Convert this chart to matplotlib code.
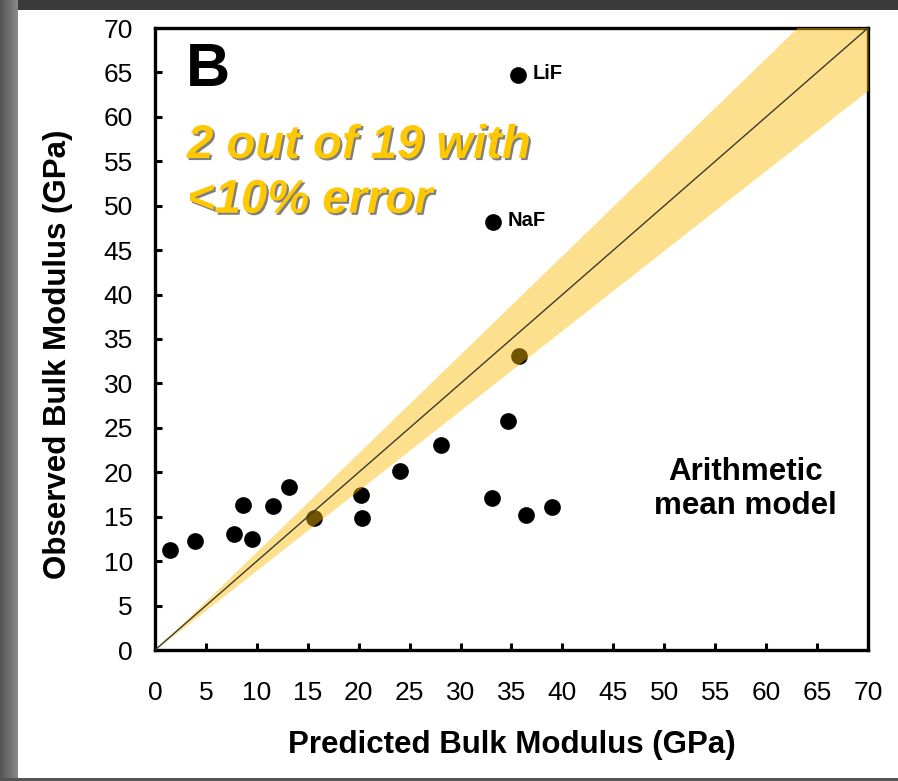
import matplotlib
matplotlib.use("Agg")
import matplotlib.pyplot as plt
import matplotlib.patheffects as pe
from matplotlib.patches import Rectangle
import numpy as np

plt.rcParams['font.family'] = ['Liberation Sans', 'DejaVu Sans']

# Data (predicted, observed) in GPa
predicted = [1.5, 3.9, 7.8, 9.5, 8.6, 11.6, 13.2, 15.6, 20.2, 20.3,
             24.1, 28.1, 34.7, 33.1, 36.4, 39.0, 35.7, 33.2, 35.6]
observed = [11.3, 12.3, 13.0, 12.5, 16.3, 16.2, 18.4, 14.9, 17.5, 14.8,
            20.2, 23.1, 25.8, 17.1, 15.2, 16.1, 33.1, 48.2, 64.7]
labels = {17: "NaF", 18: "LiF"}
tick_vals = list(range(0, 71, 5))
band_frac = 0.10
note_lines = ['2 out of 19 with', '<10% error']

fig = plt.figure(figsize=(8.98, 7.81), dpi=100)
fig.patch.set_facecolor('white')

# outer frame (presentation background)
W, H = 898, 781
fig.patches.append(Rectangle((0, 1 - 10 / H), 1, 10 / H, transform=fig.transFigure,
                             facecolor='#3a3a3a', edgecolor='none', zorder=-5))
n = 18
for i in range(n):
    g = 0.33 + 0.22 * i / n
    fig.patches.append(Rectangle((i / W, 0), 1 / W + 0.0005, 1, transform=fig.transFigure,
                                 facecolor=(g, g, g), edgecolor='none', zorder=-5))
fig.patches.append(Rectangle((0, 0), 1, 3 / H, transform=fig.transFigure,
                             facecolor='#555555', edgecolor='none', zorder=-5))

ax = fig.add_axes([155 / W, 1 - 650 / H, (868 - 155) / W, (650 - 28) / H])
ax.set_xlim(0, 70)
ax.set_ylim(0, 70)

ax.scatter(predicted, observed, s=145, color='black', zorder=2, linewidths=0)

xx = np.array([0, 70])
ax.fill_between(xx, xx * (1 - band_frac), xx / (1 - band_frac),
                color=(251 / 255, 187 / 255, 4 / 255), alpha=0.45, linewidth=0, zorder=3)
ax.plot(xx, xx, color='#3c3a2a', lw=1.0, zorder=4)

for i, lab in labels.items():
    ax.annotate(lab, (predicted[i], observed[i]), xytext=(10.5, 1), textcoords='offset points',
                fontsize=14.5, fontweight='bold', ha='left', va='center')

ax.set_xticks(tick_vals)
ax.set_yticks(tick_vals)
ax.tick_params(direction='in', length=5, width=2.2, labelsize=19, pad=22,
               top=False, right=False)
ax.tick_params(axis='y', pad=16)
for s in ax.spines.values():
    s.set_linewidth(2.4)

ax.set_xlabel('Predicted Bulk Modulus (GPa)', fontsize=22.5, fontweight='bold')
ax.set_ylabel('Observed Bulk Modulus (GPa)', fontsize=22.5, fontweight='bold')
ax.xaxis.set_label_coords(0.5, -0.128)
ax.yaxis.set_label_coords(-0.115, 0.476)

ax.text(0.043, 0.931, 'B', transform=ax.transAxes, fontsize=44, fontweight='bold',
        ha='left', va='center')
for line, yb in zip(note_lines, [0.791, 0.703]):
    ax.text(0.045, yb, line, transform=ax.transAxes,
            fontsize=34, fontweight='bold', fontstyle='italic', color='#FFC800',
            ha='left', va='baseline',
            path_effects=[pe.SimplePatchShadow(offset=(1.5, -1.5), shadow_rgbFace='black', alpha=0.5),
                          pe.Normal()])
ax.text(0.828, 0.259, 'Arithmetic\nmean model', transform=ax.transAxes,
        fontsize=22.5, fontweight='bold', ha='center', va='center', linespacing=1.15)

fig.savefig('out.png', dpi=100, facecolor=fig.get_facecolor())
